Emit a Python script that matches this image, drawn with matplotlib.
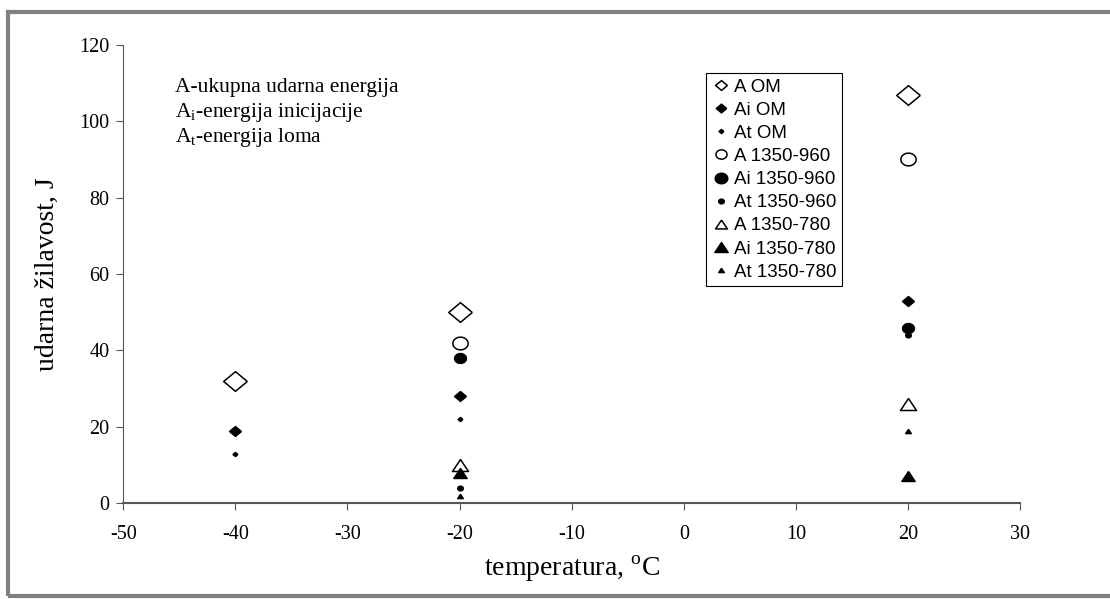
import numpy as np
import matplotlib.pyplot as plt
from matplotlib.patches import Rectangle

plt.rcParams['font.family'] = 'Liberation Serif'
plt.rcParams['mathtext.fontset'] = 'custom'
plt.rcParams['mathtext.rm'] = 'Liberation Serif'
plt.rcParams['axes.unicode_minus'] = False

# data
temp_om = [-40, -20, 20]
A_om = [32, 50, 107]
Ai_om = [19, 28, 53]
temp_om_t = [-40, -20]
At_om = [13, 22]

temp_960 = [-20, 20]
A_960 = [42, 90]
Ai_960 = [38, 46]
At_960 = [4, 44]

temp_780 = [-20, 20]
A_780 = [10, 26]
Ai_780 = [8, 7]
At_780 = [2, 19]

# slightly wide marker shapes like the original
diamond = [(1.2, 0), (0, 1), (-1.2, 0), (0, -1), (1.2, 0)]
t = np.linspace(0, 2 * np.pi, 41)
ellipse = list(zip(1.2 * np.cos(t), 1.0 * np.sin(t)))
triangle = [(0, 0.9), (-1.2, -0.9), (1.2, -0.9), (0, 0.9)]

# label, x, y, marker, size, face, legend size
series = [
    ('A OM', temp_om, A_om, diamond, 17, 'white', 8.5),
    ('Ai OM', temp_om, Ai_om, diamond, 8.5, 'black', 7.5),
    ('At OM', temp_om_t, At_om, diamond, 3.5, 'black', 3.5),
    ('A 1350-960', temp_960, A_960, ellipse, 11, 'white', 8),
    ('Ai 1350-960', temp_960, Ai_960, ellipse, 8.5, 'black', 9),
    ('At 1350-960', temp_960, At_960, ellipse, 4, 'black', 4),
    ('A 1350-780', temp_780, A_780, triangle, 11.5, 'white', 8.5),
    ('Ai 1350-780', temp_780, Ai_780, triangle, 9.5, 'black', 9.5),
    ('At 1350-780', temp_780, At_780, triangle, 4, 'black', 4),
]

fig = plt.figure(figsize=(11.1, 5.99), dpi=100)
ax = fig.add_axes([0.111, 0.160, 0.808, 0.765])

for label, x, y, m, ms, fc, lms in series:
    ax.plot(x, y, linestyle='none', marker=m, markersize=ms,
            markerfacecolor=fc, markeredgecolor='black', markeredgewidth=1.1,
            label=label)

ax.set_xlim(-50, 30)
ax.set_ylim(0, 120)
ax.set_xticks(range(-50, 31, 10))
ax.set_yticks(range(0, 121, 20))
ax.tick_params(labelsize=14.5, length=5, direction='out', color='#555555')
ax.tick_params(axis='x', pad=11)
ax.tick_params(axis='y', pad=5)
for s in ['top', 'right']:
    ax.spines[s].set_visible(False)
ax.spines['left'].set_color('#555555')
ax.spines['bottom'].set_color('#555555')
ax.spines['bottom'].set_linewidth(1.5)

ax.set_xlabel(r'temperatura, $^\mathregular{o}$C', fontsize=20, labelpad=7)
ax.set_ylabel('udarna žilavost, J', fontsize=20, labelpad=14)

ax.text(0.058, 0.906, 'A-ukupna udarna energija', transform=ax.transAxes,
        fontsize=15.5, va='center')
ax.text(0.058, 0.853, r'A$_\mathregular{i}$-energija inicijacije', transform=ax.transAxes,
        fontsize=15.5, va='center')
ax.text(0.058, 0.799, r'A$_\mathregular{t}$-energija loma', transform=ax.transAxes,
        fontsize=15.5, va='center')

leg = ax.legend(loc='upper left', bbox_to_anchor=(0.65, 0.939), frameon=True,
                fancybox=False, edgecolor='black', framealpha=1,
                prop={'family': 'Liberation Sans', 'size': 13.5},
                handletextpad=0.2, handlelength=1.0, labelspacing=0.32,
                borderpad=0.3, borderaxespad=0)
leg.get_frame().set_linewidth(0.8)
for h, s in zip(leg.legend_handles, series):
    h.set_markersize(s[6])

# outer gray frame of the original image
fig.patches.append(Rectangle((0.0072, 0.005), 1.1, 0.975, transform=fig.transFigure,
                             fill=False, edgecolor='gray', linewidth=3))

fig.savefig('out.png', dpi=100)
